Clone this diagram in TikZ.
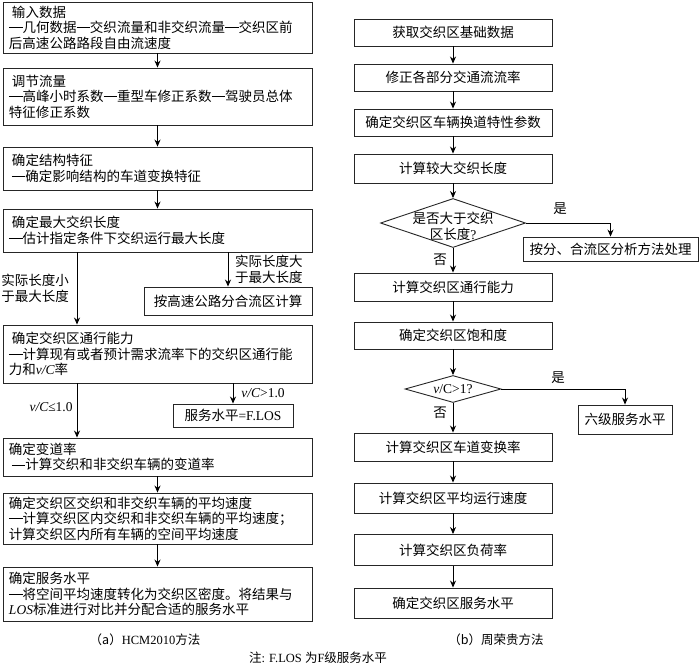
\documentclass[tikz,border=0pt]{standalone}
\usepackage{fontspec}
\setmainfont{Noto Sans CJK SC}
\newfontfamily\lat{Liberation Serif}
\usetikzlibrary{arrows.meta,shapes.geometric}
\newcommand\zhdash{\rule[0.34em]{1em}{0.055em}}

\begin{document}
\begin{tikzpicture}[x=1pt,y=-1pt,>={Stealth[length=7pt,width=6pt]},
  lbox/.style={draw=black!85, line width=0.9pt, align=left, text width=297pt, inner xsep=6pt, inner ysep=2pt, font=\fontsize{13.5}{15.5}\selectfont},
  rbox/.style={draw=black!85, line width=0.9pt, align=center, minimum width=198pt, inner sep=2pt, font=\fontsize{13.5}{15.5}\selectfont},
  cond/.style={draw=black!85, line width=0.9pt, diamond, inner sep=0pt},
  lbl/.style={inner sep=0pt, font=\fontsize{13.5}{16}\selectfont},
  captext/.style={inner sep=0pt, font=\fontsize{12.5}{15}\selectfont},
  every path/.append style={line width=0.9pt}]
\useasboundingbox (0,0) rectangle (700,664);

% (a) HCM2010
\node[lbox, minimum height=51pt] (a1) at (157.5,27.5) {\hspace{3pt}输入数据\\\zhdash 几何数据\zhdash 交织流量和非交织流量\zhdash 交织区前\\后高速公路路段自由流速度};
\node[lbox, minimum height=57pt] (a2) at (157.5,96.5) {\hspace{3pt}调节流量\\\zhdash 高峰小时系数\zhdash 重型车修正系数\zhdash 驾驶员总体\\特征修正系数};
\node[lbox, minimum height=43pt] (a3) at (157.5,168.5) {\hspace{3pt}确定结构特征\\\hspace{3pt}\zhdash 确定影响结构的车道变换特征};
\node[lbox, minimum height=43pt] (a4) at (157.5,230.5) {\hspace{3pt}确定最大交织长度\\\zhdash 估计指定条件下交织运行最大长度};
\node[rbox, minimum width=168pt, minimum height=28pt] (a4b) at (228,301) {按高速公路分合流区计算};
\node[lbox, minimum height=58pt] (a5) at (157.5,354) {\hspace{3pt}确定交织区通行能力\\\zhdash 计算现有或者预计需求流率下的交织区通行能\\力和{\lat\itshape v/C}率};
\node[rbox, minimum width=120pt, minimum height=23pt] (a5b) at (233,415.5) {服务水平{\lat =F.LOS}};
\node[lbox, minimum height=38pt] (a6) at (157.5,457) {确定变道率\\\hspace{3pt}\zhdash 计算交织和非交织车辆的变道率};
\node[lbox, minimum height=51pt] (a7) at (157.5,518.5) {确定交织区交织和非交织车辆的平均速度\\\zhdash 计算交织区内交织和非交织车辆的平均速度；\\计算交织区内所有车辆的空间平均速度};
\node[lbox, minimum height=54pt] (a8) at (157.5,594) {确定服务水平\\\zhdash 将空间平均速度转化为交织区密度。将结果与\\{\lat\itshape LOS}标准进行对比并分配合适的服务水平};
\coordinate (lx) at (77,0);

\draw[->] (a1) -- (a2);
\draw[->] (a2) -- (a3);
\draw[->] (a3) -- (a4);
\draw[->] (a4.south -| lx) -- (a5.north -| lx);
\draw[->] (a4b.north |- a4.south) -- (a4b);
\draw[->] (a5.south -| lx) -- (a6.north -| lx);
\draw[->] (a5b.north |- a5.south) -- (a5b);
\draw[->] (a6) -- (a7);
\draw[->] (a7) -- (a8);

\node[lbl, anchor=west, align=left] (l1) at (1,288) {实际长度小\\于最大长度};
\node[lbl, anchor=east, align=right] (l2) at (303,269) {实际长度大\\于最大长度};
\node[lbl, anchor=east] (l3) at (73,407) {{\lat\itshape v/C}{\lat ≤1.0}};
\node[lbl, anchor=west] (l4) at (241,393) {{\lat\itshape v/C}{\lat >1.0}};

% (b) zhou
\node[rbox, minimum height=27pt] (b1) at (453,32.5) {获取交织区基础数据};
\node[rbox, minimum height=27pt] (b2) at (453,77.5) {修正各部分交通流流率};
\node[rbox, minimum height=27pt] (b3) at (453,122.5) {确定交织区车辆换道特性参数};
\node[rbox, minimum height=29pt] (b4) at (453,168.5) {计算较大交织长度};
\node[cond, minimum width=145pt, minimum height=49pt] (d1) at (453,223) {};
\node[lbl, align=center] (d1t) at (453,226) {是否大于交织\\区长度{\lat ?}};
\node[rbox, minimum width=175pt, minimum height=24pt] (y1) at (610.5,249) {按分、合流区分析方法处理};
\node[rbox, minimum height=28pt] (b5) at (453,287) {计算交织区通行能力};
\node[rbox, minimum height=27pt] (b6) at (453,335.5) {确定交织区饱和度};
\node[cond, minimum width=96pt, minimum height=27pt] (d2) at (453,389) {};
\node[lbl] (d2t) at (453,389) {{\lat\itshape v}{\lat /C>1?}};
\node[rbox, minimum width=94pt, minimum height=29pt] (y2) at (625,419.5) {六级服务水平};
\node[rbox, minimum height=28pt] (b7) at (453,447) {计算交织区车道变换率};
\node[rbox, minimum height=30pt] (b8) at (453,498) {计算交织区平均运行速度};
\node[rbox, minimum height=31pt] (b9) at (453,550) {计算交织区负荷率};
\node[rbox, minimum height=30pt] (b10) at (453,603) {确定交织区服务水平};

\draw[->] (b1) -- (b2);
\draw[->] (b2) -- (b3);
\draw[->] (b3) -- (b4);
\draw[->] (b4) -- (d1);
\draw[->] (d1.east) -| (y1);
\draw[->] (d1) -- (b5);
\draw[->] (b5) -- (b6);
\draw[->] (b6) -- (d2);
\draw[->] (d2.east) -| (y2);
\draw[->] (d2) -- (b7);
\draw[->] (b7) -- (b8);
\draw[->] (b8) -- (b9);
\draw[->] (b9) -- (b10);

\node[lbl] (s1) at (560,209) {是};
\node[lbl] (n1) at (440,260) {否};
\node[lbl] (s2) at (558,378) {是};
\node[lbl] (n2) at (440,413) {否};

\node[captext] (capa) at (145,640) {（a）{\lat HCM2010}方法};
\node[captext] (capb) at (496,640) {（b）周荣贵方法};
\node[captext] (note) at (318,658) {注{\lat : F.LOS }为{\lat F}级服务水平};
\end{tikzpicture}
\end{document}
